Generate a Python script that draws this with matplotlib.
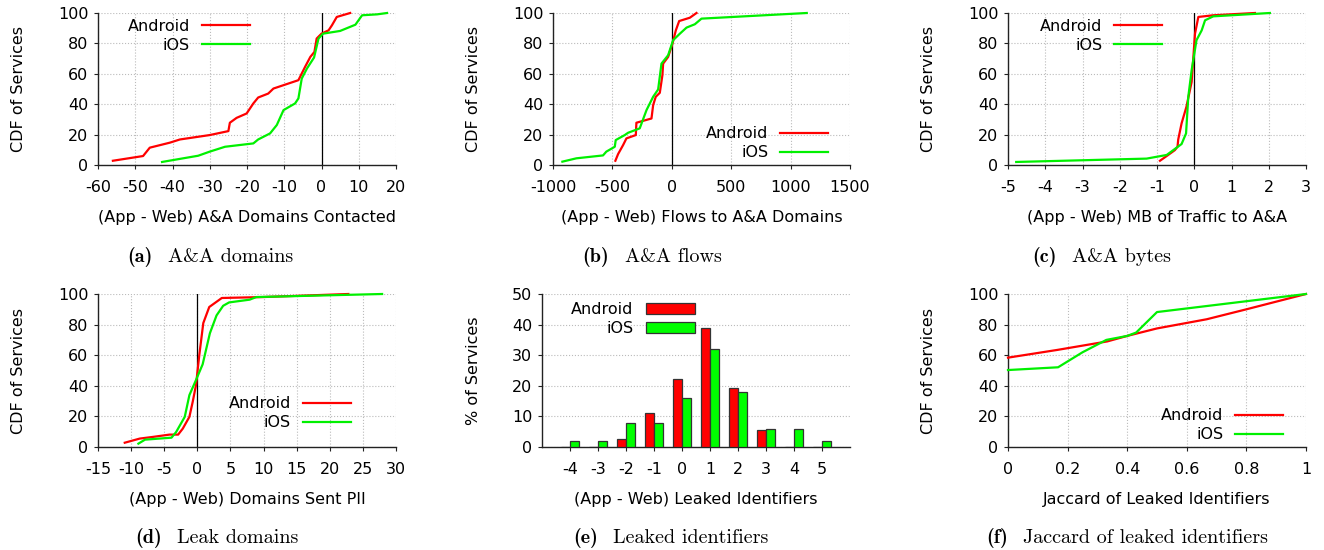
import matplotlib
matplotlib.use('Agg')
import matplotlib.pyplot as plt
from matplotlib.patches import Patch
from matplotlib.offsetbox import TextArea, HPacker, AnnotationBbox
import numpy as np

plt.rcParams['font.family'] = ['DejaVu Sans']
plt.rcParams['axes.unicode_minus'] = False

RED = '#ff0000'
GREEN = '#00f000'
FS = 11.5

# (a) A&A domains contacted
a_and_x = [-56, -47.9, -46.1, -40.7, -38, -30, -25, -24.6, -22.8, -20.1, -18.3, -17, -14.3, -12.9,
           -6.2, -4.4, -3, -1.9, -1.3, 0, 1.9, 2.8, 4.1, 7.7]
a_and_y = [2.8, 5.9, 11.4, 14.7, 16.8, 19.7, 22.3, 27.8, 31, 33.9, 40.5, 44.4, 47, 50.3,
           55.8, 64.6, 71.1, 74.4, 83.2, 86.4, 88.6, 91.9, 97.4, 100]
a_ios_x = [-42.8, -33.1, -30, -25.9, -18.3, -17, -13.8, -12, -10.2, -7.1, -6.2, -5.3, -3.9, -2,
           -0.8, 0.4, 5, 9.1, 10.9, 14.9, 17.6]
a_ios_y = [2, 6.1, 8.8, 12, 14.2, 16.8, 20.8, 26.3, 36.1, 40.5, 43.8, 56.9, 63.5, 70.7,
           83.2, 86.4, 88.2, 92.3, 98.5, 99.1, 100]

# (b) flows to A&A domains
b_and_x = [-475, -452, -410, -382, -303, -298, -171, -157, -135, -101, -79, -73, -31, 6, 34, 62, 152, 208]
b_and_y = [2.8, 7.2, 13.1, 17.5, 19.7, 27.8, 30.6, 39.4, 44.9, 47.5, 59.1, 66.7, 71.1, 79.9, 88.6, 94.7, 96.9, 100]
b_ios_x = [-921, -803, -579, -551, -480, -472, -396, -368, -270, -213, -157, -115, -87, -31, 11, 68, 124, 194, 250, 1136]
b_ios_y = [2.2, 4.4, 6.3, 8.8, 12, 16.4, 19.7, 21.2, 24.1, 36.1, 44.9, 49.7, 66.7, 72.2, 82.1, 86.4, 90.4, 92.6, 96.3, 100]

# (c) MB of traffic to A&A
c_and_x = [-0.92, -0.74, -0.52, -0.45, -0.43, -0.34, -0.21, -0.07, 0.02, 0.11, 0.51, 1.63]
c_and_y = [2.8, 5.9, 9.8, 12, 16.8, 27.4, 38.3, 54.7, 86.4, 97.4, 98.5, 100]
c_ios_x = [-4.78, -1.28, -0.74, -0.34, -0.22, -0.16, -0.07, 0.06, 0.2, 0.29, 0.51, 1.41, 2.03]
c_ios_y = [2, 4.2, 6.6, 13.8, 20.8, 44.9, 62.4, 82.1, 88.6, 95.2, 97.8, 99.1, 100]

# (d) domains sent PII
d_and_x = [-10.96, -8.7, -6.7, -4.2, -2.9, -2.2, -1.2, -0.7, -0.2, 0.3, 0.9, 1.8, 3.7, 9.9, 22.8]
d_and_y = [2.8, 5.5, 6.6, 8.1, 8.1, 12, 19.7, 29.5, 40.5, 60.2, 81, 91.5, 97.4, 98, 100]
d_ios_x = [-8.9, -7.9, -3.9, -3.2, -1.9, -1.2, -0.2, 0.8, 1.9, 2.9, 3.9, 4.8, 7.9, 8.9, 27.9]
d_ios_y = [2.2, 4.8, 6.1, 9.8, 19.7, 33.9, 43.8, 54, 74.4, 86, 92.3, 94.5, 96.3, 98, 100]

# (e) leaked identifiers histogram
e_cats = [-4, -3, -2, -1, 0, 1, 2, 3, 4, 5]
e_and = [0, 0, 2.7, 11.1, 22.2, 38.9, 19.4, 5.5, 0, 0]
e_ios = [2, 2, 8, 8, 16, 32, 18, 6, 6, 2]

# (f) jaccard of leaked identifiers
f_and_x = [0, 0.167, 0.333, 0.4, 0.5, 0.667, 0.8, 1]
f_and_y = [58.4, 63.5, 69, 72.6, 77.5, 83.5, 90, 100]
f_ios_x = [0, 0.168, 0.25, 0.33, 0.4, 0.43, 0.5, 1]
f_ios_y = [50.3, 52.1, 61.9, 70, 72.6, 74.8, 88.2, 100]

W, H = 1324, 550
fig = plt.figure(figsize=(W / 100, H / 100), dpi=100)


def add_ax(left, top, right, bottom):
    return fig.add_axes([left / W, 1 - bottom / H, (right - left) / W, (bottom - top) / H])


def style(ax, xlabel, ylabel, ylab_x, grid_x=True):
    for s in ('top', 'right'):
        ax.spines[s].set_visible(False)
    for s in ('left', 'bottom'):
        ax.spines[s].set_color('#222222')
        ax.spines[s].set_linewidth(1.0)
    ax.tick_params(labelsize=FS, length=3, width=0.8, color='#222222')
    ax.tick_params(axis='x', pad=8)
    ax.tick_params(axis='y', pad=4)
    ax.grid(True, axis='both' if grid_x else 'y', linestyle=':', color='#bbbbbb', linewidth=0.8)
    ax.set_axisbelow(True)
    ax.set_xlabel(xlabel, fontsize=FS)
    ax.xaxis.set_label_coords(0.5, -0.295)
    ax.set_ylabel(ylabel, fontsize=FS)
    ax.yaxis.set_label_coords(ylab_x, 0.5)


def cdf_panel(ax, ax_w, and_x, and_y, ios_x, ios_y, xlim, xticks, xlabel, leg_loc, leg_anchor, zero=True):
    ax.plot(and_x, and_y, color=RED, lw=1.6, label='Android', clip_on=False, zorder=3)
    ax.plot(ios_x, ios_y, color=GREEN, lw=1.6, label='iOS', clip_on=False, zorder=3)
    if zero:
        ax.axvline(0, color='black', lw=0.9, zorder=2)
    ax.set_xlim(*xlim)
    ax.set_xticks(xticks)
    ax.set_ylim(0, 100)
    ax.set_yticks(range(0, 101, 20))
    style(ax, xlabel, 'CDF of Services', -72 / ax_w)
    ax.legend(loc=leg_loc, bbox_to_anchor=leg_anchor, frameon=False, markerfirst=False,
              fontsize=FS, handlelength=3.0, handletextpad=0.75, labelspacing=0.25,
              borderpad=0, borderaxespad=0)


ax_a = add_ax(98, 13, 396, 165)
cdf_panel(ax_a, 298, a_and_x, a_and_y, a_ios_x, a_ios_y, (-60, 20), range(-60, 21, 10),
          '(App - Web) A&A Domains Contacted', 'upper right', (0.51, 0.962))

ax_b = add_ax(553, 13, 850, 165)
cdf_panel(ax_b, 297, b_and_x, b_and_y, b_ios_x, b_ios_y, (-1000, 1500), range(-1000, 1501, 500),
          '(App - Web) Flows to A&A Domains', 'lower right', (0.926, 0.03))

ax_c = add_ax(1008, 13, 1306, 165)
cdf_panel(ax_c, 298, c_and_x, c_and_y, c_ios_x, c_ios_y, (-5, 3), range(-5, 4),
          '(App - Web) MB of Traffic to A&A', 'upper right', (0.517, 0.962))

ax_d = add_ax(98, 294, 396, 447)
cdf_panel(ax_d, 298, d_and_x, d_and_y, d_ios_x, d_ios_y, (-15, 30), range(-15, 31, 5),
          '(App - Web) Domains Sent PII', 'lower right', (0.849, 0.11))

ax_e = add_ax(542, 294, 850, 447)
xs = np.arange(len(e_cats))
bw = 0.33
ax_e.bar(xs - bw / 2, e_and, bw, color=RED, edgecolor='#333333', lw=0.9, label='Android', zorder=3)
ax_e.bar(xs + bw / 2, e_ios, bw, color='#00ff00', edgecolor='#333333', lw=0.9, label='iOS', zorder=3)
ax_e.set_xticks(xs)
ax_e.set_xticklabels([str(c) for c in e_cats])
ax_e.set_xlim(-1.0, 10.0)
ax_e.set_ylim(0, 50)
ax_e.set_yticks(range(0, 51, 10))
style(ax_e, '(App - Web) Leaked Identifiers', '% of Services', -61 / 308, grid_x=False)
ax_e.legend(handles=[Patch(facecolor=RED, edgecolor='#333333', lw=0.9, label='Android'),
                     Patch(facecolor='#00ff00', edgecolor='#333333', lw=0.9, label='iOS')],
            loc='upper right', bbox_to_anchor=(0.497, 0.947), frameon=False, markerfirst=False,
            fontsize=FS, handlelength=3.1, handleheight=0.6, handletextpad=0.75,
            labelspacing=0.25, borderpad=0, borderaxespad=0)

ax_f = add_ax(1008, 294, 1306, 447)
cdf_panel(ax_f, 298, f_and_x, f_and_y, f_ios_x, f_ios_y, (0, 1), [0, 0.2, 0.4, 0.6, 0.8, 1],
          'Jaccard of Leaked Identifiers', 'lower right', (0.923, 0.03), zero=False)
ax_f.set_xticklabels(['0', '0.2', '0.4', '0.6', '0.8', '1'])

# sub-figure captions in Computer Modern (bold tag + roman text)
captions = [(210, 257, '(a)', 'A&A domains'), (652, 257, '(b)', 'A&A flows'),
            (1102, 257, '(c)', 'A&A bytes'), (217, 538, '(d)', 'Leak domains'),
            (671, 538, '(e)', 'Leaked identifiers'), (1127, 538, '(f)', 'Jaccard of leaked identifiers')]
for cx, cy, tag, txt in captions:
    box = HPacker(children=[TextArea(tag, textprops=dict(family='cmb10', size=14.5)),
                            TextArea(txt, textprops=dict(family='cmr10', size=14.5))],
                  align='baseline', pad=0, sep=11)
    ab = AnnotationBbox(box, (cx / W, 1 - cy / H), xycoords='figure fraction',
                        frameon=False, box_alignment=(0.5, 0.5), pad=0)
    fig.add_artist(ab)

fig.savefig('out.png', dpi=100)
